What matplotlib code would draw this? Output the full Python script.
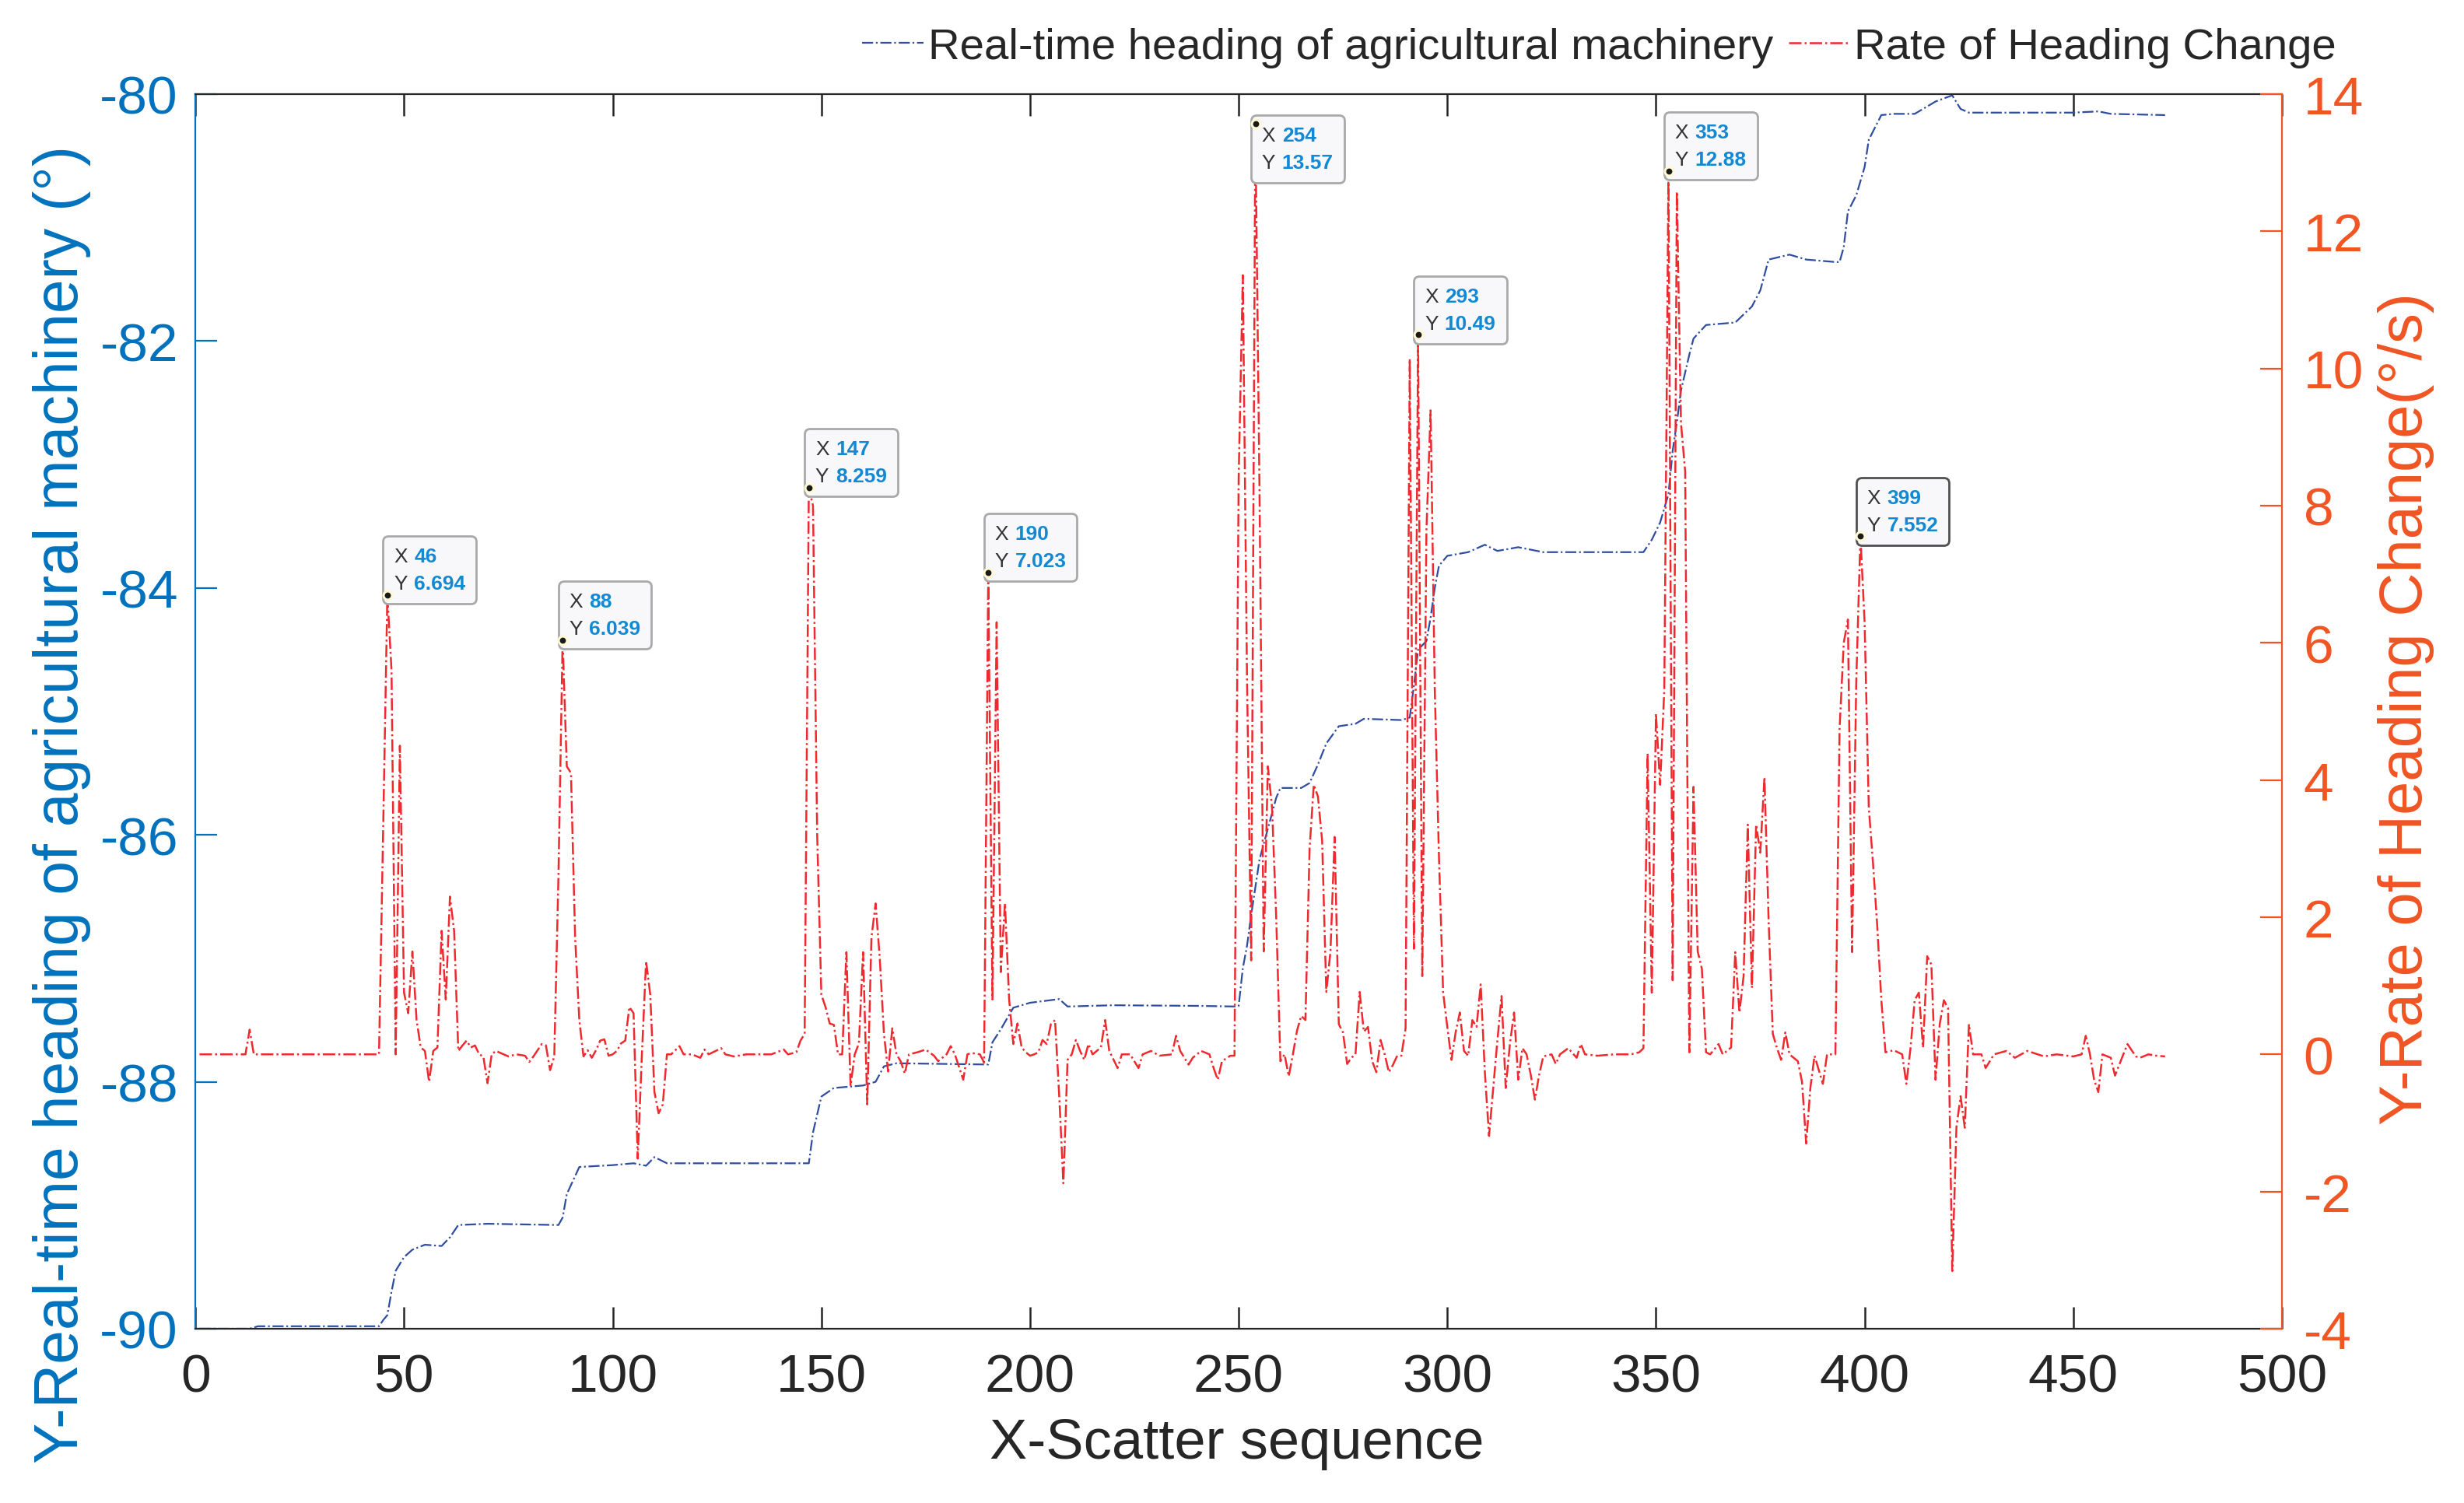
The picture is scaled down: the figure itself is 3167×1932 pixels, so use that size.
import numpy as np
import matplotlib
matplotlib.use('Agg')
import matplotlib.pyplot as plt
from matplotlib.offsetbox import TextArea, HPacker, VPacker, AnnotationBbox

plt.rcParams['font.family'] = ['Liberation Sans', 'DejaVu Sans']

# heading of the machine (left axis)
heading_x = [1, 13, 15, 44, 45, 46, 47, 48, 50, 52,
             55, 59, 61, 63, 70, 87, 88, 89, 92, 100,
             105, 108, 110, 113, 147, 148, 150, 153, 160, 163,
             165, 168, 190, 191, 193, 196, 200, 207, 209, 220,
             240, 249, 250, 251, 252, 253, 255, 257, 259, 260,
             265, 267, 269, 271, 274, 278, 280, 289, 291, 292,
             293, 295, 296, 297, 298, 300, 305, 309, 312, 317,
             323, 347, 349, 351, 353, 354, 355, 356, 358, 359,
             362, 369, 373, 375, 377, 382, 386, 393, 394, 395,
             396, 398, 400, 401, 404, 407, 412, 417, 421, 423,
             425, 450, 456, 459, 472]
heading_y = [-90.0, -90.0, -89.98, -89.98, -89.93, -89.89, -89.7, -89.53, -89.42, -89.36,
             -89.32, -89.33, -89.26, -89.16, -89.15, -89.16, -89.1, -88.91, -88.69, -88.675,
             -88.66, -88.68, -88.61, -88.66, -88.66, -88.41, -88.12, -88.05, -88.03, -88.0,
             -87.875, -87.85, -87.86, -87.68, -87.575, -87.4, -87.36, -87.33, -87.39, -87.38,
             -87.385, -87.39, -87.386, -87.08, -86.9, -86.65, -86.2, -85.95, -85.7, -85.62,
             -85.62, -85.58, -85.43, -85.26, -85.12, -85.1, -85.06, -85.07, -85.05, -84.79,
             -84.5, -84.43, -84.24, -84.0, -83.82, -83.74, -83.71, -83.65, -83.7, -83.67,
             -83.71, -83.71, -83.61, -83.47, -83.24, -82.89, -82.66, -82.4, -82.11, -81.98,
             -81.87, -81.85, -81.72, -81.59, -81.34, -81.3, -81.34, -81.36, -81.36, -81.24,
             -80.95, -80.82, -80.59, -80.37, -80.17, -80.16, -80.16, -80.06, -80.01, -80.12,
             -80.15, -80.15, -80.14, -80.16, -80.17]

# rate of heading change (right axis)
rate_x = [1, 12, 13, 14, 44, 45, 46, 47, 48, 49,
          50, 51, 52, 53, 54, 55, 56, 57, 58, 59,
          60, 61, 62, 63, 64, 65, 66, 67, 68, 69,
          70, 71, 72, 75, 77, 79, 80, 81, 83, 84,
          85, 86, 87, 88, 89, 90, 91, 92, 93, 94,
          95, 96, 97, 98, 99, 100, 101, 102, 103, 104,
          105, 106, 107, 108, 109, 110, 111, 112, 113, 114,
          116, 117, 119, 121, 122, 123, 126, 127, 129, 132,
          135, 138, 141, 142, 144, 145, 146, 147, 148, 149,
          150, 151, 152, 153, 154, 155, 156, 157, 158, 159,
          160, 161, 162, 163, 164, 165, 166, 167, 168, 169,
          170, 171, 173, 175, 177, 178, 180, 181, 182, 184,
          185, 186, 188, 189, 190, 191, 192, 193, 194, 195,
          196, 197, 198, 199, 200, 201, 202, 203, 204, 205,
          206, 207, 208, 209, 210, 211, 212, 213, 214, 215,
          216, 217, 218, 219, 221, 222, 224, 226, 227, 229,
          231, 234, 235, 236, 238, 239, 241, 243, 244, 245,
          246, 248, 249, 250, 251, 252, 253, 254, 255, 256,
          257, 258, 259, 260, 261, 262, 263, 264, 265, 266,
          267, 268, 269, 270, 271, 272, 273, 274, 275, 276,
          277, 278, 279, 280, 281, 282, 283, 284, 285, 286,
          287, 288, 289, 290, 291, 292, 293, 294, 295, 296,
          297, 298, 299, 300, 301, 302, 303, 304, 305, 306,
          307, 308, 309, 310, 311, 312, 313, 314, 315, 316,
          317, 318, 319, 320, 321, 322, 323, 325, 326, 327,
          329, 331, 332, 333, 336, 340, 344, 346, 347, 348,
          349, 350, 351, 352, 353, 354, 355, 356, 357, 358,
          359, 360, 361, 362, 363, 365, 366, 368, 369, 370,
          371, 372, 373, 374, 375, 376, 377, 378, 379, 380,
          381, 382, 384, 385, 386, 387, 388, 390, 391, 393,
          394, 395, 396, 397, 398, 399, 400, 401, 402, 403,
          404, 405, 407, 409, 410, 411, 412, 413, 414, 415,
          416, 417, 418, 419, 420, 421, 422, 423, 424, 425,
          426, 428, 429, 431, 434, 436, 439, 443, 446, 450,
          452, 453, 454, 455, 456, 457, 459, 460, 462, 463,
          465, 466, 468, 470, 472]
rate_y = [0.0, 0.0, 0.36, 0.0, 0.0, 3.3, 6.694, 5.6, 0.0, 4.5,
          0.9, 0.6, 1.5, 0.5, 0.1, 0.05, -0.4, 0.05, 0.1, 1.8,
          0.8, 2.3, 1.8, 0.05, 0.13, 0.2, 0.1, 0.13, 0.0, -0.03,
          -0.42, 0.0, 0.05, -0.03, 0.0, -0.02, -0.11, -0.03, 0.15, 0.13,
          -0.23, -0.03, 2.6, 6.039, 4.2, 4.1, 1.7, 0.5, -0.03, 0.06,
          -0.05, 0.06, 0.2, 0.22, -0.02, 0.0, 0.05, 0.16, 0.2, 0.69,
          0.6, -1.52, 0.0, 1.36, 0.87, -0.55, -0.86, -0.73, 0.0, 0.0,
          0.12, 0.0, 0.0, -0.05, 0.07, 0.0, 0.09, 0.0, -0.03, 0.0,
          0.0, 0.0, 0.07, 0.0, 0.03, 0.2, 0.3, 8.259, 8.0, 3.2,
          0.87, 0.69, 0.45, 0.43, 0.0, 0.0, 1.49, -0.46, 0.0, 0.16,
          1.49, -0.73, 1.7, 2.2, 1.4, 0.3, -0.25, 0.38, 0.0, -0.1,
          -0.28, 0.0, 0.03, 0.07, -0.02, -0.1, 0.0, 0.12, 0.0, -0.37,
          0.0, 0.02, 0.0, -0.12, 7.023, 0.8, 6.3, 1.2, 2.2, 0.8,
          0.15, 0.45, 0.1, 0.03, -0.02, 0.0, 0.03, 0.21, 0.15, 0.44,
          0.5, -0.6, -1.88, -0.08, 0.0, 0.21, 0.05, -0.08, 0.15, 0.0,
          0.05, 0.1, 0.5, 0.05, -0.2, 0.0, 0.0, -0.2, 0.0, 0.05,
          -0.02, 0.0, 0.27, 0.05, -0.15, -0.05, 0.05, 0.0, -0.2, -0.37,
          -0.1, -0.02, -0.02, 8.4, 11.36, 5.5, 1.37, 13.57, 8.2, 1.5,
          4.2, 3.6, 2.0, -0.1, 0.0, -0.32, 0.0, 0.35, 0.56, 0.5,
          3.0, 3.93, 3.76, 3.12, 0.91, 1.5, 3.17, 0.44, 0.32, -0.14,
          -0.05, 0.0, 0.91, 0.33, 0.4, -0.1, -0.26, 0.21, 0.0, -0.26,
          -0.15, -0.02, -0.02, 0.38, 10.14, 1.54, 10.49, 1.14, 7.64, 9.39,
          5.32, 2.88, 0.9, 0.4, -0.08, 0.32, 0.61, 0.05, -0.02, 0.5,
          0.4, 1.02, -0.26, -1.19, -0.5, 0.2, 0.85, -0.49, 0.15, 0.61,
          -0.37, 0.09, 0.0, -0.3, -0.66, -0.3, -0.03, 0.0, -0.14, 0.0,
          0.09, -0.05, 0.15, 0.0, -0.02, 0.0, 0.0, 0.03, 0.09, 4.39,
          0.9, 4.97, 3.93, 5.32, 12.88, 1.08, 12.58, 9.2, 8.5, 0.03,
          3.9, 1.5, 1.25, 0.03, 0.0, 0.15, 0.0, 0.1, 1.49, 0.61,
          1.14, 3.35, 0.97, 3.35, 2.94, 4.04, 1.95, 0.3, 0.09, -0.08,
          0.32, 0.0, -0.1, -0.4, -1.3, -0.49, -0.02, -0.43, 0.0, 0.0,
          4.74, 6.0, 6.34, 1.49, 5.44, 7.552, 6.3, 3.6, 2.8, 1.9,
          0.8, 0.03, 0.06, 0.0, -0.43, 0.09, 0.79, 0.9, 0.1, 1.43,
          1.31, -0.37, 0.44, 0.79, 0.67, -3.16, -1.07, -0.61, -1.07, 0.44,
          0.0, 0.0, -0.2, 0.0, 0.05, -0.05, 0.05, -0.03, 0.0, -0.03,
          0.0, 0.27, 0.0, -0.37, -0.55, 0.0, -0.05, -0.31, 0.0, 0.15,
          -0.03, -0.05, 0.0, -0.02, -0.03]

# data tips shown on the rate curve
tip_x = [46, 88, 147, 190, 254, 293, 353, 399]
tip_y = [6.694, 6.039, 8.259, 7.023, 13.57, 10.49, 12.88, 7.552]

label_heading = 'Real-time heading of agricultural machinery'
label_rate = 'Rate of Heading Change'

blue_axis = '#0072BD'
orange_axis = '#F05523'
dark = '#262626'


def add_tip(ax, x, y, below=False, edge='#A9A9A9'):
    """MATLAB style data tip: small box with X / Y rows next to the point."""
    rows = []
    for name, val in (('X', f'{x:g}'), ('Y', f'{y:.4g}')):
        rows.append(HPacker(children=[
            TextArea(name, textprops=dict(color='#333333', fontsize=9.5)),
            TextArea(val, textprops=dict(color='#1289D2', fontsize=9.5, fontweight='bold'))],
            align='baseline', pad=0, sep=3))
    box = VPacker(children=rows, align='left', pad=0, sep=4)
    ab = AnnotationBbox(box, (x, y), xycoords='data',
                        xybox=(3, -1 if below else 1), boxcoords='offset points',
                        box_alignment=(0, 1 if below else 0), frameon=True,
                        bboxprops=dict(boxstyle='round,pad=0.5,rounding_size=0.25',
                                       fc='#F8F8FA', ec=edge, lw=1.0))
    ab.set_zorder(8)
    ax.add_artist(ab)
    ax.plot(x, y, 'o', ms=5, mfc='#FFF8D2', mec='none', zorder=9)
    ax.plot(x, y, 'o', ms=2.8, mfc='#1A1A1A', mec='none', zorder=10)


fig = plt.figure(figsize=(3167 / 200, 1933 / 200), dpi=200)
ax = fig.add_axes([0.0793, 0.1159, 0.8468, 0.8210])
ax2 = ax.twinx()

l1, = ax.plot(heading_x, heading_y, linestyle='-.', color='#2F4DA0', lw=0.8)
l2, = ax2.plot(rate_x, rate_y, linestyle='-.', color='#EE2A2E', lw=0.9)

ax.set_xlim(0, 500)
ax.set_ylim(-90, -80)
ax2.set_ylim(-4, 14)
ax.set_xticks(np.arange(0, 501, 50))
ax.set_yticks(np.arange(-90, -79, 2))
ax2.set_yticks(np.arange(-4, 15, 2))

# spines: blue left, orange right, black box top/bottom
for sp in ax.spines.values():
    sp.set_linewidth(0.8)
for sp in ax2.spines.values():
    sp.set_linewidth(0.8)
ax.spines['left'].set_color(blue_axis)
ax.spines['right'].set_visible(False)
ax.spines['top'].set_color(dark)
ax.spines['bottom'].set_color(dark)
ax2.spines['left'].set_visible(False)
ax2.spines['top'].set_visible(False)
ax2.spines['bottom'].set_visible(False)
ax2.spines['right'].set_color(orange_axis)

ax.tick_params(axis='x', which='both', direction='in', top=True, bottom=True,
               length=10, width=0.9, color=dark, labelcolor=dark, labelsize=25, pad=11)
ax.tick_params(axis='y', direction='in', left=True, right=False, length=10, width=0.8,
               color=blue_axis, labelcolor=blue_axis, labelsize=25, pad=8)
ax2.tick_params(axis='y', direction='in', right=True, left=False, length=10, width=0.8,
                color=orange_axis, labelcolor=orange_axis, labelsize=25, pad=10)
ax.set_yticklabels([f'{v:d}' for v in range(-90, -79, 2)])
ax2.set_yticklabels([f'{v:d}' for v in range(-4, 15, 2)])
ax.set_xticklabels([f'{v:d}' for v in range(0, 501, 50)])

ax.set_xlabel('X-Scatter sequence', fontsize=26, color=dark)
ax.xaxis.set_label_coords(0.499, -0.072)
ax.set_ylabel('Y-Real-time heading of agricultural machinery (°)', fontsize=28.3, color=blue_axis)
ax.yaxis.set_label_coords(-0.050, 0.425)
ax2.set_ylabel('Y-Rate of Heading Change(°/s)', fontsize=28, color=orange_axis)
ax2.yaxis.set_label_coords(1.046, 0.503)

for i, (tx, ty) in enumerate(zip(tip_x, tip_y)):
    below = ty > 13
    edge = '#505050' if i == len(tip_x) - 1 else '#A9A9A9'
    add_tip(ax2, tx, ty, below=below, edge=edge)

fig.legend([l1, l2], [label_heading, label_rate], loc='center',
           bbox_to_anchor=(0.649, 0.968), ncol=2, frameon=False, fontsize=20.3,
           handlelength=1.4, handletextpad=0.1, columnspacing=0.35,
           labelcolor=dark)

fig.savefig('out.png', dpi=200)
